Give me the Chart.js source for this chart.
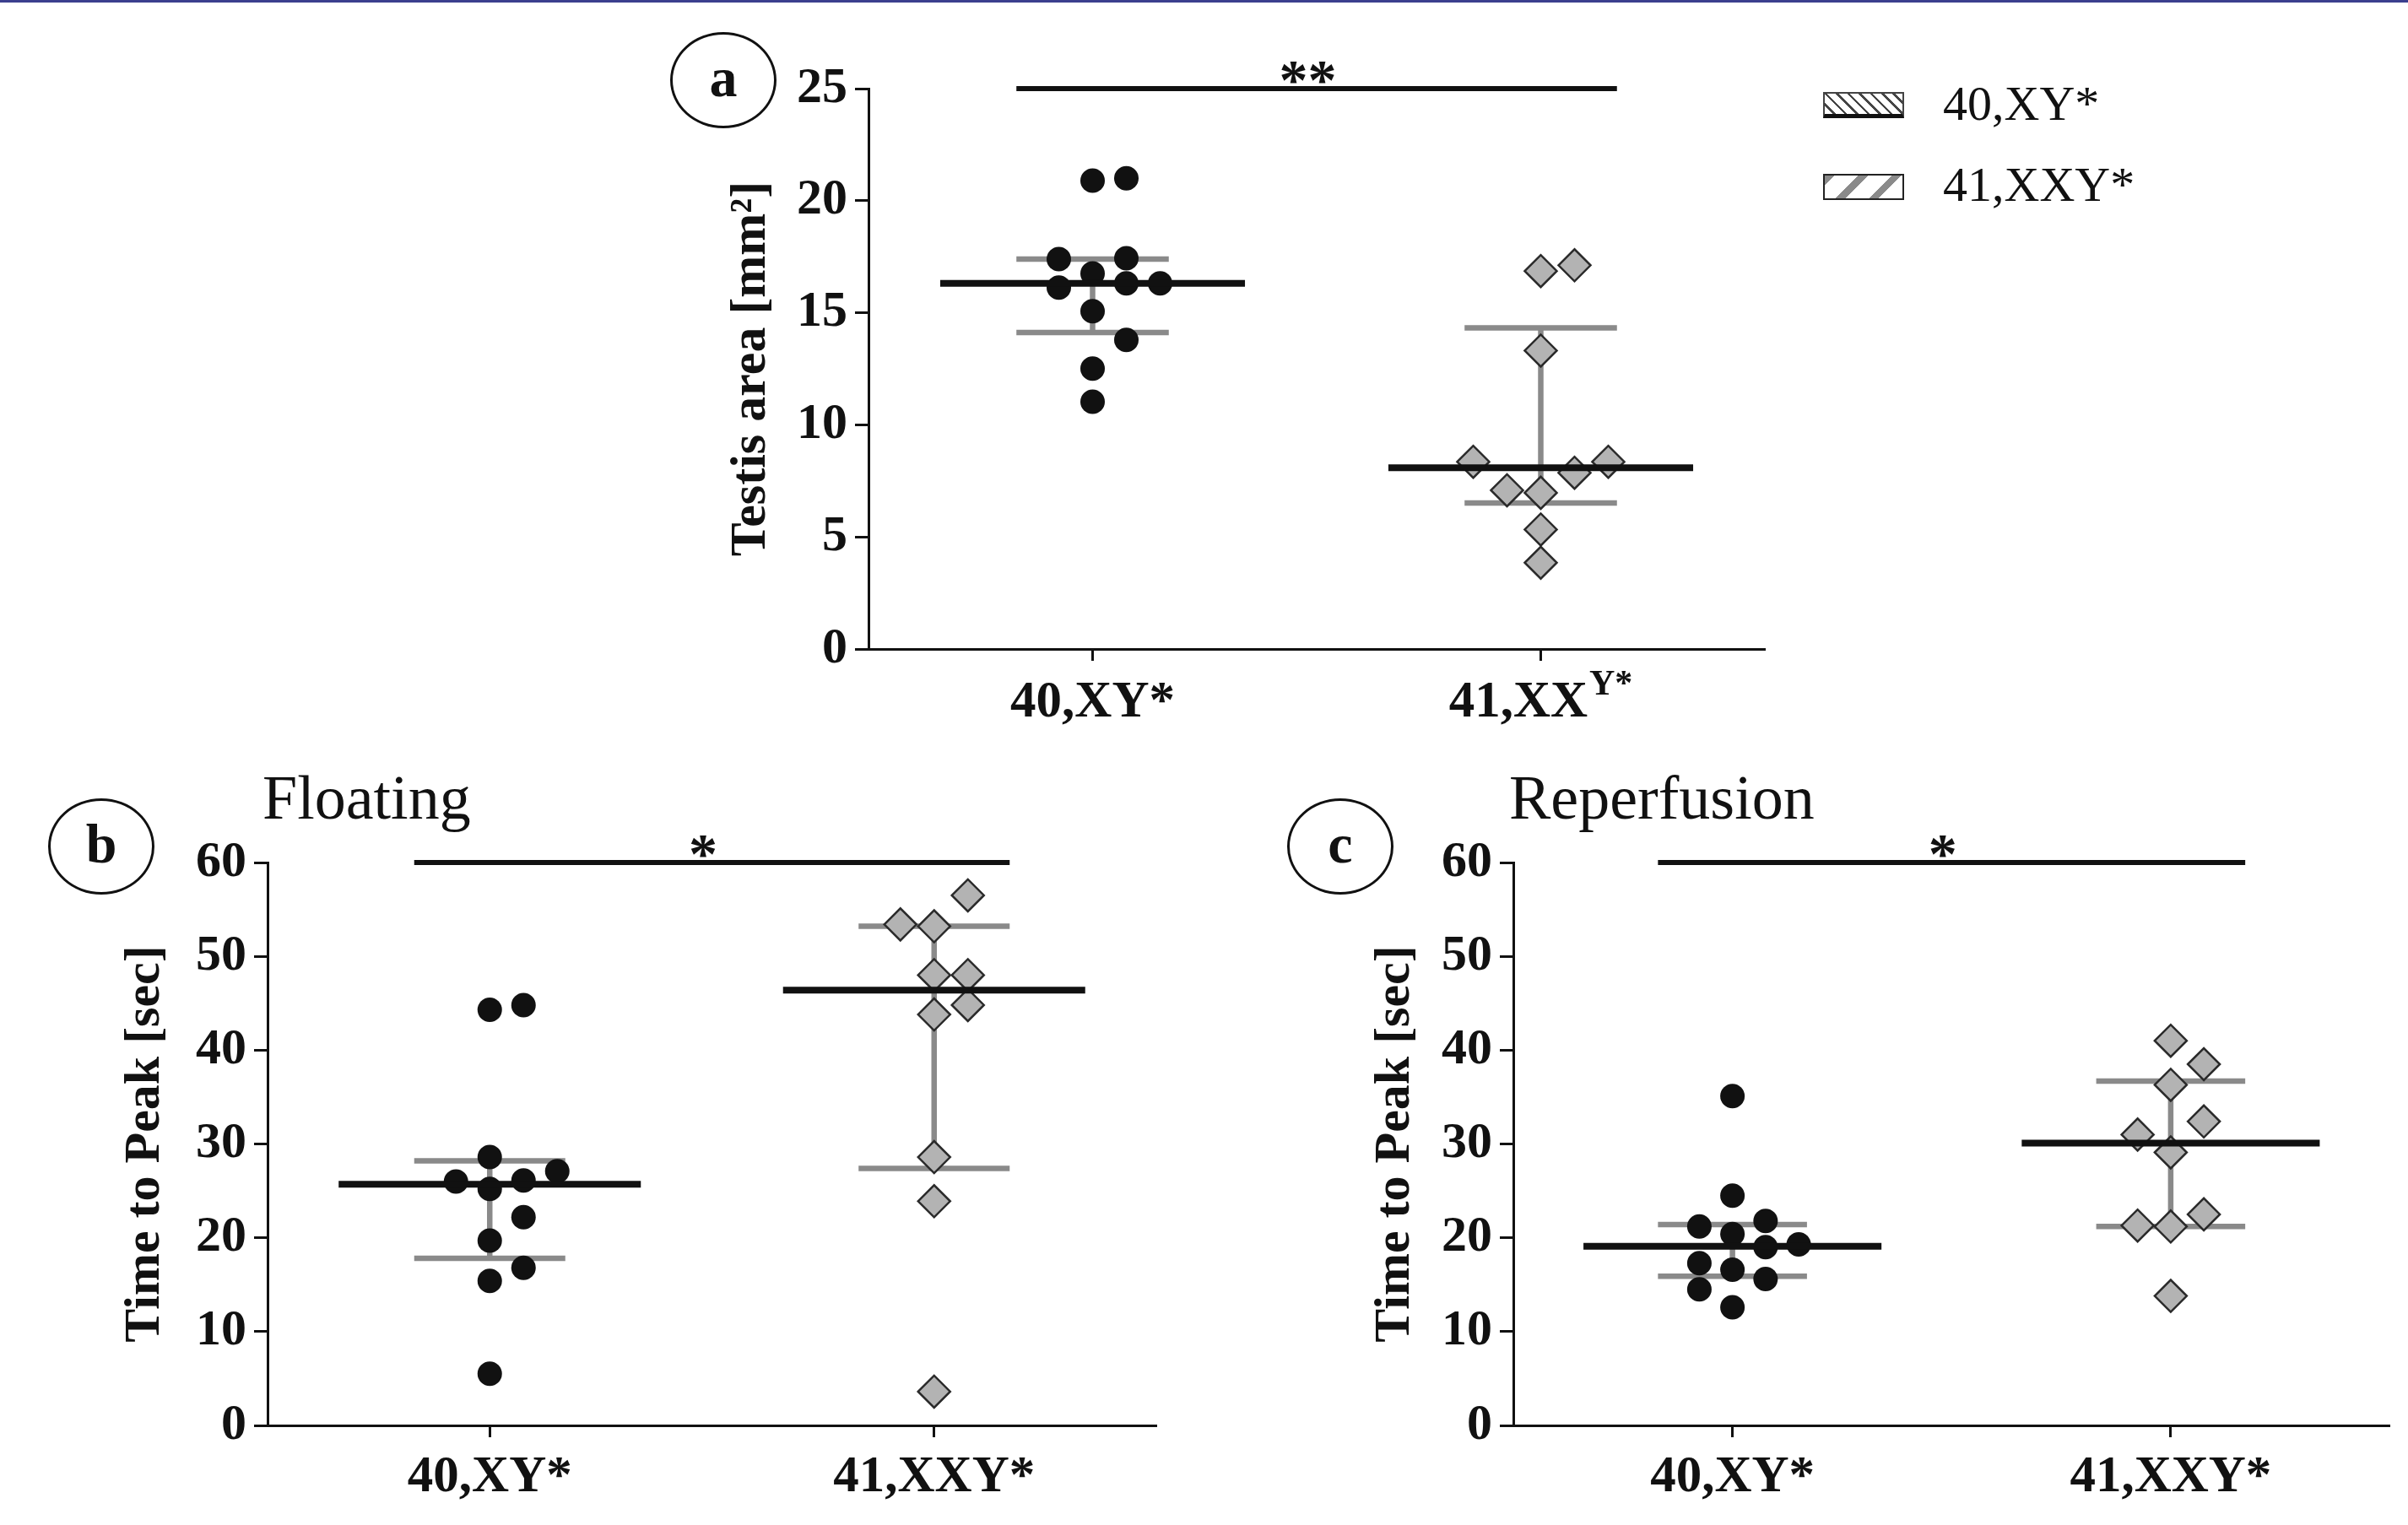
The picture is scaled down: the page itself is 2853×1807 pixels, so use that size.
<!DOCTYPE html>
<html>
<head>
<meta charset="utf-8">
<script src="https://cdn.jsdelivr.net/npm/chart.js@4.4.1/dist/chart.umd.min.js"></script>
<style>
  body { margin: 0; background: #fff; width: 2853px; height: 1807px; position: relative; overflow: hidden; font-family: "Liberation Serif", serif; }
  canvas { position: absolute; }
  .topline { position: absolute; left: 0; top: 0; width: 2853px; height: 3px; background: #3b3f8e; }
  .tag { position: absolute; width: 126px; height: 114px; border: 3px solid #111; border-radius: 50%; box-sizing: border-box;
         display: flex; align-items: center; justify-content: center; font-weight: bold; font-size: 66px; color: #111; padding-bottom: 6px; }
  .ptitle { position: absolute; font-size: 74px; line-height: 1; color: #111; }
  .legbox { position: absolute; left: 2160px; width: 96px; height: 31px; box-sizing: border-box; }
  .legtxt { position: absolute; left: 2302px; font-size: 58px; line-height: 1; color: #111; }
</style>
</head>
<body>
<div class="topline"></div>

<div class="tag" style="left:794px; top:38px;">a</div>
<div class="tag" style="left:57px; top:946px;">b</div>
<div class="tag" style="left:1525px; top:946px;">c</div>

<div class="ptitle" style="left:311px; top:908px;">Floating</div>
<div class="ptitle" style="left:1788px; top:908px;">Reperfusion</div>

<div class="legbox" style="top:109px; border:2px solid #444; border-bottom:5px solid #111;
     background: repeating-linear-gradient(45deg, #fff 0 7px, #444 7px 9.5px);"></div>
<div class="legtxt" style="top:94px;">40,XY*</div>
<div class="legbox" style="top:206px; border:2.5px solid #222;
     background: repeating-linear-gradient(-45deg, #fff 0 20px, #8a8a8a 20px 28px);"></div>
<div class="legtxt" style="top:190px;">41,XXY*</div>

<canvas id="chartA" width="1400" height="880" style="left:760px; top:0px;"></canvas>
<canvas id="chartB" width="1420" height="927" style="left:0px; top:880px;"></canvas>
<canvas id="chartC" width="1373" height="927" style="left:1480px; top:880px;"></canvas>

<script>
// categories
const groups = ['40,XY*', '41,XXY*'];
const areaLabels = [['40,XY*', ''], ['41,XX', 'Y*']];

// (a) testis area [mm²]
const areaXY = [21.0, 20.9, 17.43, 17.39, 16.75, 16.31, 16.31, 16.12, 15.07, 13.79, 12.51, 11.03];
const areaXXY = [17.12, 16.86, 13.31, 8.35, 8.35, 7.86, 7.08, 6.97, 5.33, 3.85];
const areaMedian = [16.31, 8.09];
const areaLow = [14.12, 6.51];
const areaHigh = [17.39, 14.33];
const areaTicks = [0, 5, 10, 15, 20, 25];

// (b) floating, time to peak [sec]
const floatXY = [44.8, 44.3, 28.6, 27.1, 26.1, 26.0, 25.2, 22.2, 19.7, 16.8, 15.4, 5.5];
const floatXXY = [56.5, 53.4, 53.2, 48.0, 48.0, 44.8, 43.8, 28.6, 23.9, 3.6];
const floatMedian = [25.7, 46.4];
const floatLow = [17.8, 27.4];
const floatHigh = [28.2, 53.2];

// (c) reperfusion, time to peak [sec]
const reperXY = [35.1, 24.5, 21.8, 21.2, 20.4, 19.3, 19.0, 17.3, 16.6, 15.6, 14.5, 12.6];
const reperXXY = [41.0, 38.5, 36.3, 32.4, 31.0, 29.1, 22.5, 21.3, 21.2, 13.8];
const reperMedian = [19.1, 30.1];
const reperLow = [15.9, 21.2];
const reperHigh = [21.4, 36.7];

const timeTicks = [0, 10, 20, 30, 40, 50, 60];
const sigMarks = ['**', '*', '*'];

const FONT = '"Liberation Serif", "Times New Roman", serif';
const INK = '#111';
const X_H = 100;      // height reserved for the x axis
const SLOT_PX = 40;   // horizontal step between side-by-side dots
const ROW_PX = 37.5;  // dots closer than this share a row

// spread dots that sit at about the same height, like a prism scatter plot
function swarm(values, pxPerY) {
    const idx = values.map((v, i) => i).sort((a, b) => values[a] - values[b]);
    const slots = new Array(values.length).fill(0);
    let i = 0;
    while (i < idx.length) {
        let j = i;
        while (j + 1 < idx.length && (values[idx[j + 1]] - values[idx[i]]) * pxPerY < ROW_PX) j++;
        const n = j - i + 1;
        const lo = -Math.floor((n - 1) / 2);
        const order = [];
        for (let s = lo; s < lo + n; s++) order.push(s);
        order.sort((a, b) => Math.abs(a) - Math.abs(b) || a - b);
        for (let k = 0; k < n; k++) slots[idx[i + k]] = order[k];
        i = j + 1;
    }
    return slots;
}

const sigPlugin = {
    id: 'sig',
    afterDatasetsDraw(chart, args, o) {
        const { ctx, scales: { x, y } } = chart;
        ctx.save();
        ctx.font = 'bold 68px ' + FONT;
        ctx.fillStyle = INK;
        ctx.textAlign = 'center';
        ctx.textBaseline = 'alphabetic';
        ctx.fillText(o.text, x.getPixelForValue(0.48), y.getPixelForValue(y.max) + 12);
        ctx.restore();
    }
};

const supLabels = {
    id: 'supLabels',
    afterDraw(chart, args, o) {
        if (!o.labels) return;
        const { ctx, scales: { x } } = chart;
        const base = x.top + 80;
        ctx.save();
        ctx.fillStyle = INK;
        ctx.textAlign = 'left';
        ctx.textBaseline = 'alphabetic';
        o.labels.forEach((lab, i) => {
            const cx = x.getPixelForValue(i);
            ctx.font = 'bold 61px ' + FONT;
            const w1 = ctx.measureText(lab[0]).width;
            ctx.font = 'bold 42px ' + FONT;
            const w2 = lab[1] ? ctx.measureText(lab[1]).width + 2 : 0;
            const sx = cx - (w1 + w2) / 2;
            ctx.font = 'bold 61px ' + FONT;
            ctx.fillText(lab[0], sx, base);
            if (lab[1]) {
                ctx.font = 'bold 42px ' + FONT;
                ctx.fillText(lab[1], sx + w1 + 2, base - 26);
            }
        });
        ctx.restore();
    }
};

function makePanel(id, cfg) {
    const canvas = document.getElementById(id);
    const W = canvas.width, H = canvas.height;
    const a = cfg.area;
    const xPx = (a.r - a.l) / 2;
    const yPx = (a.b - a.t) / cfg.yMax;
    const capW = 0.17, medW = 0.34;

    const pts = (vals, g) => {
        const slots = swarm(vals, yPx);
        return vals.map((v, i) => ({ x: g + slots[i] * SLOT_PX / xPx, y: v }));
    };
    const bars = g => [
        { x: g - capW, y: cfg.high[g] }, { x: g + capW, y: cfg.high[g] }, { x: g, y: null },
        { x: g, y: cfg.high[g] }, { x: g, y: cfg.low[g] }, { x: g, y: null },
        { x: g - capW, y: cfg.low[g] }, { x: g + capW, y: cfg.low[g] }
    ];
    const med = g => [{ x: g - medW, y: cfg.median[g] }, { x: g + medW, y: cfg.median[g] }];
    const lineSet = (data, color, width, order) => ({
        data, showLine: true, borderColor: color, borderWidth: width, pointRadius: 0,
        spanGaps: false, order, clip: false, borderCapStyle: 'butt'
    });

    new Chart(canvas, {
        type: 'scatter',
        data: {
            datasets: [
                { label: groups[0], data: pts(cfg.xy, 0), pointStyle: 'circle', pointRadius: 14.5,
                  backgroundColor: INK, borderWidth: 0, order: 1 },
                { label: groups[1], data: pts(cfg.xxy, 1), pointStyle: 'rectRot', pointRadius: 19,
                  backgroundColor: '#b3b3b3', borderColor: '#2a2a2a', borderWidth: 2.5, order: 1 },
                lineSet(bars(0), '#8a8a8a', 6.5, 2),
                lineSet(bars(1), '#8a8a8a', 6.5, 2),
                lineSet(med(0), INK, 8, 0),
                lineSet(med(1), INK, 8, 0),
                lineSet([{ x: -0.17, y: cfg.yMax }, { x: 1.17, y: cfg.yMax }], INK, 6, 0)
            ]
        },
        options: {
            responsive: false,
            animation: false,
            events: [],
            layout: { padding: { left: 0, top: a.t, right: W - a.r, bottom: H - a.b - X_H } },
            plugins: {
                legend: { display: false },
                tooltip: { enabled: false },
                sig: { text: cfg.sig },
                supLabels: { labels: cfg.supLabels }
            },
            scales: {
                x: {
                    type: 'linear', min: -0.5, max: 1.5,
                    afterBuildTicks: s => { s.ticks = groups.map((g, i) => ({ value: i })); },
                    afterFit: s => { s.height = X_H; },
                    border: { display: true, color: INK, width: 3 },
                    grid: { display: true, drawOnChartArea: false, drawTicks: true, tickLength: 14, tickWidth: 3, tickColor: INK },
                    ticks: {
                        autoSkip: false, maxRotation: 0, padding: 12, color: INK,
                        font: { family: FONT, size: 61, weight: 'bold' },
                        callback: v => cfg.supLabels ? '' : groups[v]
                    }
                },
                y: {
                    min: 0, max: cfg.yMax,
                    afterBuildTicks: s => { s.ticks = cfg.ticks.map(v => ({ value: v })); },
                    afterFit: s => { s.width = a.l; },
                    border: { display: true, color: INK, width: 3 },
                    grid: { display: true, drawOnChartArea: false, drawTicks: true, tickLength: 16, tickWidth: 3, tickColor: INK },
                    ticks: { padding: 9, color: INK, font: { family: FONT, size: 60, weight: 'bold' } },
                    title: {
                        display: true, text: cfg.yTitle, color: INK,
                        font: { family: FONT, size: 60, weight: 'bold' },
                        padding: { top: cfg.titleX - 36, bottom: 0 }
                    }
                }
            }
        },
        plugins: [sigPlugin, supLabels]
    });
}

makePanel('chartA', {
    area: { l: 269, t: 105, r: 1331, b: 769 }, yMax: 25, ticks: areaTicks,
    yTitle: 'Testis area [mm²]', titleX: 130,
    xy: areaXY, xxy: areaXXY, median: areaMedian, low: areaLow, high: areaHigh,
    sig: sigMarks[0], supLabels: areaLabels
});
makePanel('chartB', {
    area: { l: 317, t: 142, r: 1370, b: 809 }, yMax: 60, ticks: timeTicks,
    yTitle: 'Time to Peak [sec]', titleX: 172,
    xy: floatXY, xxy: floatXXY, median: floatMedian, low: floatLow, high: floatHigh,
    sig: sigMarks[1]
});
makePanel('chartC', {
    area: { l: 313, t: 142, r: 1372, b: 809 }, yMax: 60, ticks: timeTicks,
    yTitle: 'Time to Peak [sec]', titleX: 173,
    xy: reperXY, xxy: reperXXY, median: reperMedian, low: reperLow, high: reperHigh,
    sig: sigMarks[2]
});
</script>
</body>
</html>
